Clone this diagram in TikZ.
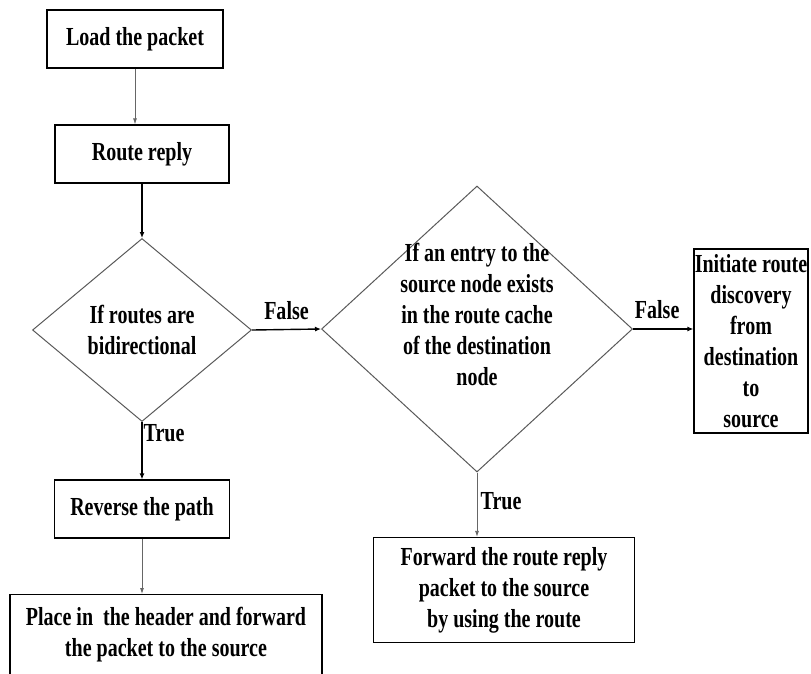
\documentclass[tikz,border=0pt]{standalone}
\usepackage{fontspec}
\setmainfont{Liberation Serif}[FakeStretch=0.77]
\usetikzlibrary{shapes.geometric,arrows.meta}
\begin{document}
\begin{tikzpicture}[x=1pt,y=-1pt,
  font=\fontsize{26}{31}\selectfont\bfseries,
  box/.style={draw=black,line width=1.2pt,rectangle,align=center,inner sep=0pt},
  decision/.style={draw=black!65,line width=1pt,diamond,align=center,inner sep=0pt},
  arr/.style={draw=black!60,line width=0.8pt,-{Latex[length=6pt,width=4pt]}},
  arrbold/.style={draw=black,line width=1.4pt,-{Latex[length=6pt,width=5pt]}}]
\clip (0,0) rectangle (811,673);
\node[box,minimum width=176pt,minimum height=58pt] (load) at (135,39) {Load the packet};
\node[box,minimum width=174pt,minimum height=58pt] (reply) at (142,154) {Route reply};
\node[decision,minimum width=219pt,minimum height=183pt] (bidir) at (142,330) {If routes are\\bidirectional};
\node[decision,minimum width=311pt,minimum height=286pt,
  label={[align=center,yshift=15pt]center:If an entry to the\\source node exists\\in the route cache\\of the destination\\node}] (cache) at (477,329) {};
\node[box,minimum width=114pt,minimum height=184pt] (init) at (751,341) {Initiate route\\discovery\\from\\destination\\to\\source};
\node[box,minimum width=175pt,minimum height=58pt] (rev) at (142,509) {Reverse the path};
\node[box,minimum width=312pt,minimum height=80pt,anchor=north] (place) at (166,594) {Place in\ \ the header and forward\\the packet to the source};
\node[box,minimum width=261pt,minimum height=105pt] (fwd) at (504,590) {Forward the route reply\\packet to the source\\by using the route};
\draw[arr] (load.south) -- (load.south |- reply.north);
\draw[arrbold] (reply.south) -- (reply.south |- bidir.north);
\draw[arrbold] (bidir.east) -- node[above=6pt] {False} (cache.west);
\draw[arrbold] (bidir.south) -- node[pos=0.2,right,inner sep=1pt] {True} (bidir.south |- rev.north);
\draw[arr] (rev.south) -- (rev.south |- place.north);
\draw[arr] (cache.south) -- node[pos=0.45,right] {True} (cache.south |- fwd.north);
\draw[arrbold] (cache.east) -- node[above=6pt,pos=0.4] {False} (cache.east -| init.west);
\end{tikzpicture}
\end{document}
